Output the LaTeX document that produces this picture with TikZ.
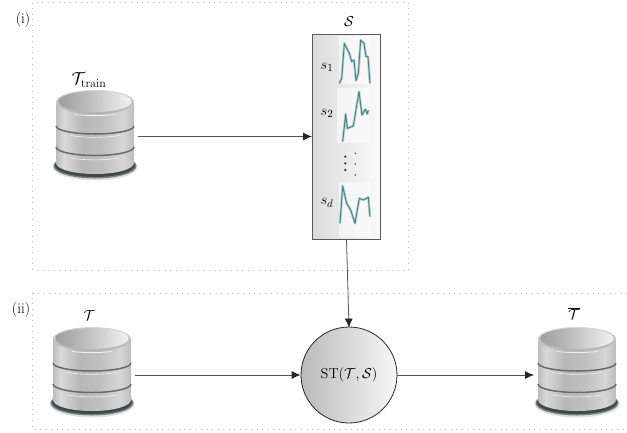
\documentclass[tikz,border=0pt]{standalone}
\usetikzlibrary{arrows.meta}
\definecolor{curvec}{HTML}{4A858E}
\definecolor{framec}{HTML}{B8B8B8}
\definecolor{linec}{HTML}{555555}
\definecolor{dbband}{HTML}{6A6A68}
\definecolor{dbshadow}{HTML}{3F4A4A}
\pgfdeclarehorizontalshading{dbbody}{100bp}{
  color(0bp)=(black!26); color(25bp)=(black!26); color(30bp)=(black!15); color(42bp)=(black!28);
  color(55bp)=(black!25); color(68bp)=(black!16); color(75bp)=(black!26); color(100bp)=(black!26)}
\pgfdeclarehorizontalshading{dbtop}{100bp}{
  color(0bp)=(black!38); color(25bp)=(black!38); color(45bp)=(black!26); color(62bp)=(black!14); color(75bp)=(black!5); color(100bp)=(black!5)}
\tikzset{
  framebox/.style={draw=framec,line width=0.8pt,dash pattern=on 0.8pt off 4.75pt},
  conn/.style={draw=linec,line width=0.8pt,-{Latex[length=9pt,width=8pt,black!85]}},
  dbnode/.style={minimum width=78pt,minimum height=90pt,inner sep=0pt,outer sep=0pt},
  curve/.style={draw=curvec,line width=1pt,line join=round},
  curvehalo/.style={draw=curvec!35,line width=2.6pt,line join=round},
  thumbbg/.style={fill=white,fill opacity=0.55,draw=none},
  lbl/.style={inner sep=0pt,font=\fontsize{15}{18}\selectfont},
}
% #1 centre x, #2 top y
\newcommand{\dbdraw}[2]{%
  \begin{scope}[shift={(#1,#2)}]
    \fill[black!12] (0,77) ellipse [x radius=42.5,y radius=13.5];
    \fill[dbshadow!70!white] (0,76) ellipse [x radius=41.5,y radius=12.5];
    \fill[dbshadow] (0,75.5) ellipse [x radius=40,y radius=11.5];
    \shade[shading=dbbody]
      (-39,12) -- (-39,73) arc[start angle=180,end angle=0,x radius=39,y radius=11] -- (39,12) -- cycle;
    \shade[top color=black!16,bottom color=black!30]
      (0,12) ellipse [x radius=39,y radius=12];
    \shade[shading=dbtop]
      (0,11.5) ellipse [x radius=36.5,y radius=10.5];
    \draw[black!6,line width=0.8pt] (-20,24.5) .. controls (-8,26) and (8,26) .. (20,24.5);
    \draw[dbband,line width=1.5pt] (-39,36) arc[start angle=180,end angle=0,x radius=39,y radius=8];
    \draw[black!5,line width=0.6pt] (-25,45.5) .. controls (-8,48) and (8,48) .. (25,45.5);
    \draw[dbband,line width=1.5pt] (-39,57) arc[start angle=180,end angle=0,x radius=39,y radius=8.5];
    \draw[black!5,line width=0.6pt] (-25,68) .. controls (-8,70.5) and (8,70.5) .. (25,68);
  \end{scope}}
\begin{document}
\begin{tikzpicture}[x=1pt,y=-1pt]
  \useasboundingbox (0,0) rectangle (627,432);
  % dotted frames
  \draw[framebox] (32.5,2.5) rectangle (408.5,270);
  \draw[framebox] (627,293) -- (32.5,293) -- (32.5,429) -- (627,429);
  \node[lbl] (lab1) at (23,20) {(i)};
  \node[lbl] (lab2) at (21,310) {(ii)};
  % databases
  \dbdraw{95}{90}
  \dbdraw{92}{327}
  \dbdraw{577}{327}
  \node[dbnode] (train) at (95,136.5) {};
  \node[dbnode] (tset) at (92,375) {};
  \node[dbnode] (tbar) at (577,375) {};
  \node[lbl,font=\fontsize{17}{20}\selectfont] (ltrain) at (89,80) {$\mathcal{T}_{\mathrm{train}}$};
  \node[lbl] (lt) at (89.5,315.5) {$\mathcal{T}$};
  \node[lbl] (ltbar) at (574,314) {$\overline{\mathcal{T}}$};
  % dictionary box
  \node[draw=black!65,line width=1pt,left color=black!14,right color=black!2,
        minimum width=68pt,minimum height=205pt,inner sep=0pt,anchor=north west] (dict) at (312,34) {};
  \node[lbl] (ldict) at (349,22) {$\mathcal{S}$};
  \begin{scope}[shift={(290,10)},x=0.3333pt,y=-0.3333pt]
    \fill[thumbbg] (148,78) rectangle (240,222);
    \fill[thumbbg] (140,235) rectangle (238,398);
    \fill[thumbbg] (147,515) rectangle (243,680);
    \draw[curvehalo] (148,220) -- (155,205) -- (163,100) -- (178,130) -- (185,155) -- (192,150) -- (198,212) -- (205,190) -- (212,90) -- (222,100) -- (228,140) -- (234,140) -- (240,220);
    \draw[curvehalo] (158,395) -- (167,312) -- (172,355) -- (190,348) -- (207,245) -- (216,315) -- (226,298) -- (232,312) -- (235,300);
    \draw[curvehalo] (150,640) -- (158,528) -- (170,580) -- (182,600) -- (195,640) -- (208,565) -- (220,570) -- (235,562) -- (240,620);
    \draw[curve] (148,220) -- (155,205) -- (163,100) -- (178,130) -- (185,155) -- (192,150) -- (198,212) -- (205,190) -- (212,90) -- (222,100) -- (228,140) -- (234,140) -- (240,220);
    \draw[curve] (158,395) -- (167,312) -- (172,355) -- (190,348) -- (207,245) -- (216,315) -- (226,298) -- (232,312) -- (235,300);
    \draw[curve] (150,640) -- (158,528) -- (170,580) -- (182,600) -- (195,640) -- (208,565) -- (220,570) -- (235,562) -- (240,620);
    \foreach \px/\py in {166/440,166/460,166/480}
      \fill[black!85] (\px,\py) circle (3.6);
    \foreach \px/\py in {196/430,196/462,196/495}
      \fill[black!70] (\px,\py) circle (2.6);
  \end{scope}
  \node[lbl] (s1) at (327,67) {$s_1$};
  \node[lbl] (s2) at (327,113) {$s_2$};
  \node[lbl] (sd) at (327,203) {$s_d$};
  % operator
  \node[circle,draw=black!85,line width=0.8pt,left color=black!27,middle color=black!11,right color=black!3,
        minimum size=96pt,inner sep=0pt,font=\fontsize{14.4}{17}\selectfont] (st) at (349,375) {ST$(\mathcal{T},\mathcal{S})$};
  % connectors
  \draw[conn] ([xshift=4pt]train.east) -- (dict.west |- train.east);
  \draw[conn] (dict.south) -- ([yshift=-1pt]st.north);
  \draw[conn] ([xshift=4pt]tset.east) -- (st.west);
  \draw[conn] (st.east) -- ([xshift=-4pt]tbar.west);
\end{tikzpicture}
\end{document}
